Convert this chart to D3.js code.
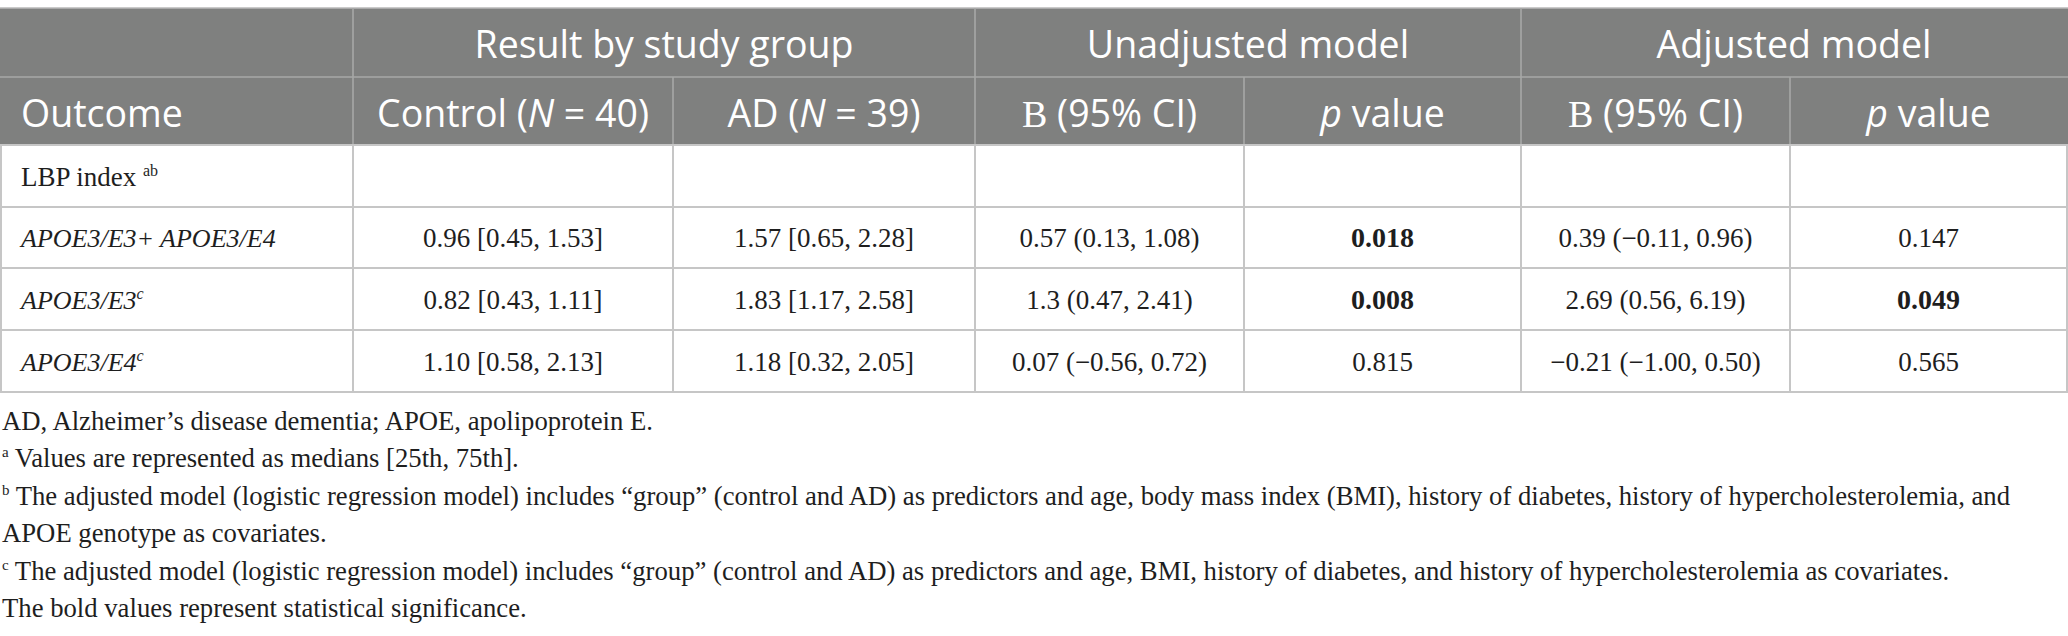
<!DOCTYPE html>
<html><head><meta charset="utf-8">
<script src="https://cdn.jsdelivr.net/npm/d3@7"></script>
<style>
body{margin:0;background:#fff;}
svg{display:block;}
</style>
</head><body>
<svg id="chart" width="2068" height="636"></svg>
<script>
// ---------- data ----------
const groupHeaders = ["", "Result by study group", "Unadjusted model", "Adjusted model"];
const groupSpans = [1, 2, 2, 2];
const subHeaders = [
  [{t:"Outcome"}],
  [{t:"Control ("},{t:"N",i:true},{t:" = 40)"}],
  [{t:"AD ("},{t:"N",i:true},{t:" = 39)"}],
  [{t:"B",serif:true},{t:" (95% CI)"}],
  [{t:"p",i:true},{t:" value"}],
  [{t:"B",serif:true},{t:" (95% CI)"}],
  [{t:"p",i:true},{t:" value"}]
];
const outcomes = ["LBP index ", "APOE3/E3+ APOE3/E4", "APOE3/E3", "APOE3/E4"];
const outcomeSup = ["ab", "", "c", "c"];
const outcomeItalic = [false, true, true, true];
const controlValues = ["", "0.96 [0.45, 1.53]", "0.82 [0.43, 1.11]", "1.10 [0.58, 2.13]"];
const adValues = ["", "1.57 [0.65, 2.28]", "1.83 [1.17, 2.58]", "1.18 [0.32, 2.05]"];
const unadjB = ["", "0.57 (0.13, 1.08)", "1.3 (0.47, 2.41)", "0.07 (\u22120.56, 0.72)"];
const unadjP = ["", "0.018", "0.008", "0.815"];
const adjB = ["", "0.39 (\u22120.11, 0.96)", "2.69 (0.56, 6.19)", "\u22120.21 (\u22121.00, 0.50)"];
const adjP = ["", "0.147", "0.049", "0.565"];
const unadjSig = [false, true, true, false];
const adjSig = [false, false, true, false];
const footnotes = [
  {sup:"", t:"AD, Alzheimer\u2019s disease dementia; APOE, apolipoprotein E."},
  {sup:"a", t:" Values are represented as medians [25th, 75th]."},
  {sup:"b", t:" The adjusted model (logistic regression model) includes \u201cgroup\u201d (control and AD) as predictors and age, body mass index (BMI), history of diabetes, history of hypercholesterolemia, and"},
  {sup:"", t:"APOE genotype as covariates."},
  {sup:"c", t:" The adjusted model (logistic regression model) includes \u201cgroup\u201d (control and AD) as predictors and age, BMI, history of diabetes, and history of hypercholesterolemia as covariates."},
  {sup:"", t:"The bold values represent statistical significance."}
];

// ---------- layout ----------
const colEdges = [0, 353, 673, 975, 1244, 1521, 1790, 2067];
const rowEdges = [8, 77, 145, 207, 268, 330, 392];
const x = d3.scaleLinear().domain(d3.range(colEdges.length)).range(colEdges);
const y = d3.scaleLinear().domain(d3.range(rowEdges.length)).range(rowEdges);
const foot = d3.scaleLinear().domain([0, 5]).range([430, 617]);

const SANS = "'Open Sans', 'Noto Sans', sans-serif";
const SERIF = "'Liberation Serif', 'DejaVu Serif', serif";
const headBg = "#7f807f", headLine = "#a7a8a7", bodyLine = "#c6c6c6", ink = "#1e1e1e";
const svg = d3.select("#chart");

// header background
svg.append("rect").attr("x", x(0)).attr("y", y(0)).attr("width", 2068).attr("height", y(2) - y(0)).attr("fill", headBg);

// header lines
const hl = svg.append("g").attr("stroke", headLine).attr("stroke-width", 1.6);
hl.append("line").attr("x1", 0).attr("x2", 2068).attr("y1", y(0)).attr("y2", y(0)).attr("stroke", "#b9b9b9");
hl.append("line").attr("x1", 0).attr("x2", 2068).attr("y1", y(1)).attr("y2", y(1));
let acc = 0;
const groupStarts = groupSpans.map(s => { const a = acc; acc += s; return a; });
groupStarts.slice(1).forEach(s => hl.append("line").attr("x1", x(s)).attr("x2", x(s)).attr("y1", y(0)).attr("y2", y(1)));
d3.range(1, 7).forEach(c => hl.append("line").attr("x1", x(c)).attr("x2", x(c)).attr("y1", y(1)).attr("y2", y(2)));

// body lines
const bl = svg.append("g").attr("stroke", bodyLine).attr("stroke-width", 2);
d3.range(2, 7).forEach(r => bl.append("line").attr("x1", 0).attr("x2", 2068).attr("y1", y(r)).attr("y2", y(r)));
[0,1,2,3,4,5,6,7].forEach(c => {
  const xx = c === 0 ? 1 : x(c);
  bl.append("line").attr("x1", xx).attr("x2", xx).attr("y1", y(2)).attr("y2", y(6));
});

// group header text
groupHeaders.forEach((g, i) => {
  if (!g) return;
  const s = groupStarts[i], e = s + groupSpans[i];
  svg.append("text").attr("x", (x(s) + x(e)) / 2).attr("y", y(0.5) + 15.5)
    .attr("text-anchor", "middle").attr("fill", "#fff")
    .style("font-family", SANS).style("font-size", "37.5px").text(g);
});

// sub header text
subHeaders.forEach((segs, c) => {
  const t = svg.append("text")
    .attr("x", c === 0 ? 21 : x(c + 0.5)).attr("y", y(1.5) + 16)
    .attr("text-anchor", c === 0 ? "start" : "middle").attr("fill", "#fff")
    .style("font-family", SANS).style("font-size", "37.5px");
  segs.forEach(sg => {
    const ts = t.append("tspan").text(sg.t);
    if (sg.i) ts.style("font-style", "italic");
    if (sg.serif) ts.style("font-family", SERIF).style("font-size", "38px");
  });
});

// body rows
const bodyCols = [controlValues, adValues, unadjB, unadjP, adjB, adjP];
const sigCols = {3: unadjSig, 5: adjSig};
outcomes.forEach((o, r) => {
  const yy = y(r + 2.5) + 9.5;
  const t = svg.append("text").attr("x", 21).attr("y", yy).attr("fill", ink)
    .style("font-family", SERIF).style("font-size", outcomeItalic[r] ? "26px" : "27px");
  const main = t.append("tspan").text(o);
  if (outcomeItalic[r]) main.style("font-style", "italic");
  if (outcomeSup[r]) {
    t.append("tspan").attr("dy", -10).style("font-size", "16px")
      .style("font-style", outcomeItalic[r] ? "italic" : "normal").text(outcomeSup[r]);
  }
  bodyCols.forEach((col, ci) => {
    if (!col[r]) return;
    const sig = sigCols[ci] ? sigCols[ci][r] : false;
    svg.append("text").attr("x", x(ci + 1.5)).attr("y", yy)
      .attr("text-anchor", "middle").attr("fill", ink)
      .style("font-family", SERIF).style("font-size", sig ? "28px" : "27px")
      .style("font-weight", sig ? "bold" : "normal")
      .text(col[r]);
  });
});

// footnotes
footnotes.forEach((f, i) => {
  const t = svg.append("text").attr("x", 2).attr("y", foot(i)).attr("fill", ink)
    .style("font-family", SERIF).style("font-size", "26.7px");
  if (f.sup) {
    t.append("tspan").attr("dy", -10).style("font-size", "15px").text(f.sup);
    t.append("tspan").attr("dy", 10).text(f.t);
  } else {
    t.append("tspan").text(f.t);
  }
});
</script>
</body></html>
